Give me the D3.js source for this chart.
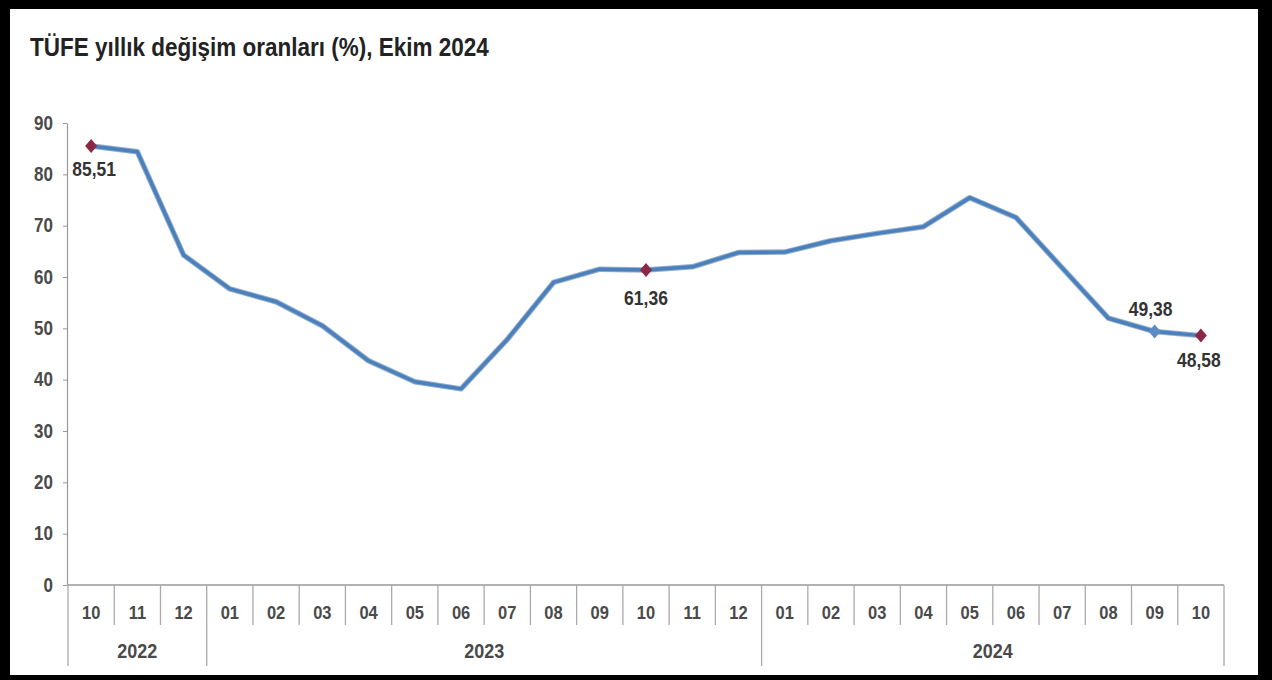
<!DOCTYPE html>
<html><head><meta charset="utf-8">
<script src="https://cdn.jsdelivr.net/npm/d3@7"></script>
<style>
html,body{margin:0;padding:0;background:#000;}
svg{display:block;}
</style></head>
<body>
<svg id="c" width="1272" height="680"></svg>
<script>
const months = ["10","11","12","01","02","03","04","05","06","07","08","09","10","11","12","01","02","03","04","05","06","07","08","09","10"];
const years = ["2022","2022","2022","2023","2023","2023","2023","2023","2023","2023","2023","2023","2023","2023","2023","2024","2024","2024","2024","2024","2024","2024","2024","2024","2024"];
const values = [85.51,84.39,64.27,57.68,55.18,50.51,43.68,39.59,38.21,47.83,58.94,61.53,61.36,61.98,64.77,64.86,67.07,68.50,69.80,75.45,71.60,61.78,51.97,49.38,48.58];
const yTicks = [0,10,20,30,40,50,60,70,80,90];
const labeled = [0,12,23,24];
const title = "TÜFE yıllık değişim oranları (%), Ekim 2024";

const SY = 1.15; // vertical stretch of text
const svg = d3.select("#c");
svg.append("rect").attr("x",0).attr("y",0).attr("width",1272).attr("height",680).attr("fill","#000");
svg.append("rect").attr("x",10).attr("y",9).attr("width",1248).attr("height",666).attr("fill","#fff");

const idx = d3.range(values.length);
const x = d3.scaleBand().domain(idx).range([68,1224]);
const y = d3.scaleLinear().domain([0,90]).range([585,123]);
const font = "'Liberation Sans', Arial, sans-serif";

function txt(px, py, s, size, opts={}) {
  return svg.append("text").attr("transform",`translate(${px},${py}) scale(1,${SY})`)
    .attr("text-anchor", opts.anchor || "middle").text(s)
    .attr("font-family",font).attr("font-weight","bold").attr("font-size",size)
    .attr("fill", opts.fill || "#4a4a4a");
}

txt(30, 56, title, 22.5, {anchor:"start", fill:"#222"});

// y axis
const ya = svg.append("g").attr("transform","translate(67,0)")
  .call(d3.axisLeft(y).tickValues(yTicks).tickSize(4).tickSizeOuter(0));
ya.select(".domain").attr("stroke","#999").attr("stroke-width",1.2);
ya.selectAll(".tick line").attr("stroke","#999");
ya.selectAll(".tick text").attr("x",-14).attr("transform",`scale(1,${SY})`)
  .attr("font-family",font).attr("font-size",17).attr("font-weight","bold").attr("fill","#4a4a4a");

// x axis baseline
svg.append("line").attr("x1",67).attr("x2",1224).attr("y1",585).attr("y2",585).attr("stroke","#999").attr("stroke-width",1.5);
idx.forEach(i=>{
  const bx = x(i);
  const isYear = i===0 || years[i]!==years[i-1];
  svg.append("line").attr("x1",bx).attr("x2",bx).attr("y1",585).attr("y2",isYear?666:625).attr("stroke","#aaa").attr("stroke-width",1.3);
  txt(bx+x.bandwidth()/2, 619, months[i], 16.5);
});
svg.append("line").attr("x1",1224).attr("x2",1224).attr("y1",585).attr("y2",666).attr("stroke","#aaa").attr("stroke-width",1.3);
d3.groups(idx, i=>years[i]).forEach(([yr, arr])=>{
  const c = (x(arr[0]) + x(arr[arr.length-1]) + x.bandwidth())/2;
  txt(c, 658, yr, 18);
});

// line
const cx = i => x(i)+x.bandwidth()/2;
const line = d3.line().x(i=>cx(i)).y(i=>y(values[i]));
svg.append("path").datum(idx).attr("d",line).attr("fill","none").attr("stroke","#3a6a9c").attr("stroke-width",5.5).attr("stroke-linejoin","round").attr("opacity",0.55);
svg.append("path").datum(idx).attr("d",line).attr("fill","none").attr("stroke","#4a80bb").attr("stroke-width",3.5).attr("stroke-linejoin","round");

// markers
const diamond = "M0,-7L6,0L0,7L-6,0Z";
labeled.forEach(i=>{
  svg.append("path").attr("d",diamond).attr("transform",`translate(${cx(i)},${y(values[i])})`)
    .attr("fill", i===23 ? "#5b8dc4" : "#8b2846");
});
const fmt = v => v.toFixed(2).replace(".",",");
const labelPos = {0:[3,30],12:[0,35],23:[-4,-16],24:[-2,31]};
labeled.forEach(i=>{
  txt(cx(i)+labelPos[i][0], y(values[i])+labelPos[i][1], fmt(values[i]), 17.5, {fill:"#333"});
});
</script>
</body></html>
